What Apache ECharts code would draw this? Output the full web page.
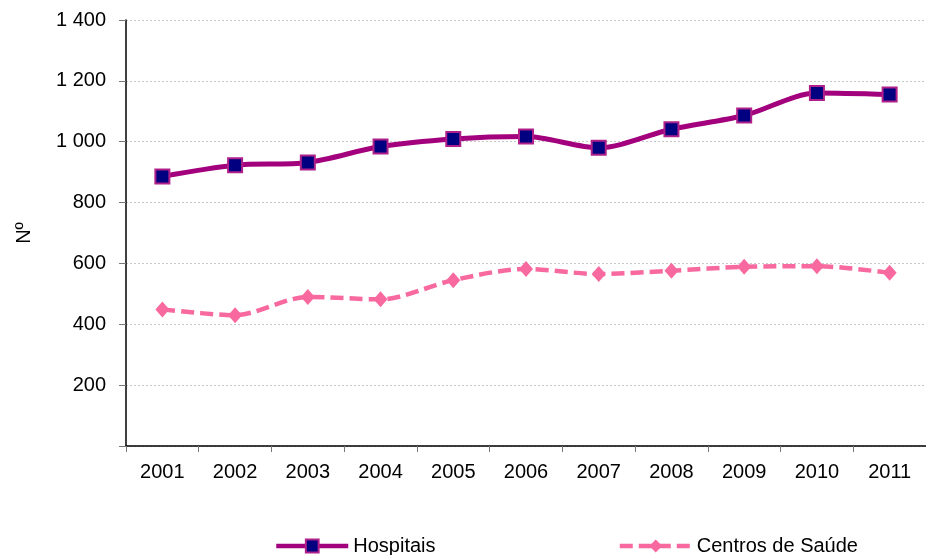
<!DOCTYPE html>
<html>
<head>
<meta charset="utf-8">
<script src="https://cdn.jsdelivr.net/npm/echarts@6/dist/echarts.min.js"></script>
<style>
  html, body { margin: 0; padding: 0; background: #fff; }
  #main { width: 926px; height: 555px; }
</style>
</head>
<body>
<div id="main"></div>
<script>
// anos e valores
var years = ['2001', '2002', '2003', '2004', '2005', '2006', '2007', '2008', '2009', '2010', '2011'];
var hospitais = [886, 923, 932, 984, 1009, 1017, 980, 1041, 1086, 1160, 1155];
var centrosSaude = [449, 430, 490, 482, 545, 582, 565, 576, 589, 591, 569];
var yTicks = [0, 200, 400, 600, 800, 1000, 1200, 1400];

var fontName = 'Liberation Sans, Arial, sans-serif';

function fmt(v) {
    if (v === 0) return '';
    return String(v).replace(/\B(?=(\d{3})+(?!\d))/g, ' ');
}

var myChart = echarts.init(document.getElementById('main'));
var option = {
    animation: false,
    textStyle: { fontFamily: fontName },
    grid: {
        left: 126,
        right: -14,
        top: 20,
        bottom: 109
    },
    legend: {
        left: 274,
        top: 536,
        padding: 0,
        itemWidth: 72,
        itemHeight: 16,
        itemGap: 182,
        lineStyle: { width: 4.5 },
        textStyle: { fontSize: 20, color: '#000', fontFamily: fontName },
        data: ['Hospitais', 'Centros de Saúde']
    },
    xAxis: {
        type: 'category',
        data: years,
        boundaryGap: true,
        axisLine: { lineStyle: { color: '#000', width: 1.5 } },
        axisTick: { show: true, length: 6, lineStyle: { color: '#777' } },
        axisLabel: { color: '#000', fontSize: 20, margin: 16, fontFamily: fontName },
        splitLine: { show: false }
    },
    yAxis: {
        type: 'value',
        min: yTicks[0],
        max: yTicks[yTicks.length - 1],
        interval: 200,
        name: 'Nº',
        nameLocation: 'middle',
        nameGap: 92,
        nameRotate: 90,
        nameTextStyle: { fontSize: 20, color: '#000', fontFamily: fontName },
        axisLine: { show: true, lineStyle: { color: '#000', width: 1.5 } },
        axisTick: { show: true, inside: false, length: 7, lineStyle: { color: '#777' } },
        axisLabel: { color: '#000', fontSize: 20, margin: 20, formatter: fmt, fontFamily: fontName },
        splitLine: { show: true, lineStyle: { color: '#c8c8c8', type: [2, 2], width: 1 } }
    },
    series: [
        {
            name: 'Hospitais',
            type: 'line',
            data: hospitais,
            smooth: 0.3,
            symbol: 'rect',
            symbolSize: 14,
            lineStyle: { color: '#A3007D', width: 5 },
            itemStyle: { color: '#000080', borderColor: '#B0208A', borderWidth: 2 },
            z: 3
        },
        {
            name: 'Centros de Saúde',
            type: 'line',
            data: centrosSaude,
            smooth: 0.3,
            symbol: 'diamond',
            symbolSize: [14, 16],
            lineStyle: { color: '#F7699F', width: 4.5, type: [13, 6] },
            itemStyle: { color: '#F7699F', borderWidth: 0 },
            z: 2
        }
    ]
};
myChart.setOption(option);
</script>
</body>
</html>
